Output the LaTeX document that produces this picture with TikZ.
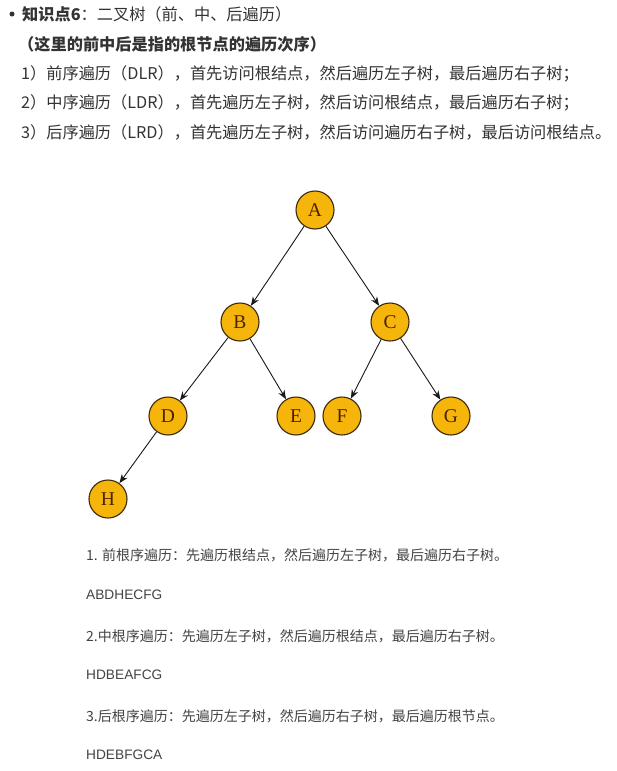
\documentclass[tikz,border=0pt]{standalone}
\usepackage{fontspec}
\setmainfont{Liberation Sans}
\newfontfamily\cjk{Noto Sans CJK SC}
\newfontfamily\serifnode{Liberation Serif}
\usetikzlibrary{arrows.meta}
\definecolor{treefill}{HTML}{F6B50A}
\definecolor{nodetext}{HTML}{4A2400}
\definecolor{nodeline}{HTML}{3A2A10}
\definecolor{txtgray}{HTML}{333333}
\definecolor{txtgray2}{HTML}{444444}
\begin{document}
\begin{tikzpicture}[x=1pt,y=-1pt,
  tn/.style={circle, draw=nodeline, line width=1.1pt, fill=treefill, minimum size=38pt, inner sep=0pt, font=\serifnode\fontsize{19.5}{19.5}\selectfont, text=nodetext},
  edgearrow/.style={-{Stealth[length=9pt,width=7pt]}, line width=0.9pt, draw=black!90},
  topline/.style={anchor=west, inner sep=0pt, text=txtgray, font=\cjk\fontsize{16.2}{16.2}\selectfont},
  botline/.style={anchor=west, inner sep=0pt, text=txtgray2, font=\cjk\fontsize{14}{14}\selectfont},
  seqline/.style={anchor=west, inner sep=0pt, text=txtgray2, font=\fontsize{13.7}{14}\selectfont}
]
\useasboundingbox (0,0) rectangle (616,771);
\fill[white] (0,0) rectangle (616,771);
% header text
\node[circle, fill=txtgray, minimum size=5pt, inner sep=0pt] (bul) at (12,14) {};
\node[topline] (t1) at (22,14) {{\bfseries 知识点6}：二叉树（前、中、后遍历）};
\node[topline] (t2) at (18,44) {\bfseries （这里的前中后是指的根节点的遍历次序）};
\node[topline] (t3) at (21,74) {1）前序遍历（DLR），首先访问根结点，然后遍历左子树，最后遍历右子树；};
\node[topline] (t4) at (21,103) {2）中序遍历（LDR），首先遍历左子树，然后访问根结点，最后遍历右子树；};
\node[topline] (t5) at (21,132) {3）后序遍历（LRD），首先遍历左子树，然后访问遍历右子树，最后访问根结点。};
% tree
\node[tn] (A) at (315,210) {A};
\node[tn] (B) at (240,322) {B};
\node[tn] (C) at (390,322) {C};
\node[tn] (D) at (168,416) {D};
\node[tn] (E) at (296,416) {E};
\node[tn] (F) at (342,416) {F};
\node[tn] (G) at (451,416) {G};
\node[tn] (H) at (108,499) {H};
\draw[edgearrow] (A) -- (B);
\draw[edgearrow] (A) -- (C);
\draw[edgearrow] (B) -- (D);
\draw[edgearrow] (B) -- (E);
\draw[edgearrow] (C) -- (F);
\draw[edgearrow] (C) -- (G);
\draw[edgearrow] (D) -- (H);
% bottom text
\node[botline] (b1) at (86,555) {1. 前根序遍历：先遍历根结点，然后遍历左子树，最后遍历右子树。};
\node[seqline] (s1) at (86,595) {ABDHECFG};
\node[botline] (b2) at (86,636) {2.中根序遍历：先遍历左子树，然后遍历根结点，最后遍历右子树。};
\node[seqline] (s2) at (86,675) {HDBEAFCG};
\node[botline] (b3) at (86,716) {3.后根序遍历：先遍历左子树，然后遍历右子树，最后遍历根节点。};
\node[seqline] (s3) at (86,755) {HDEBFGCA};
\end{tikzpicture}
\end{document}
